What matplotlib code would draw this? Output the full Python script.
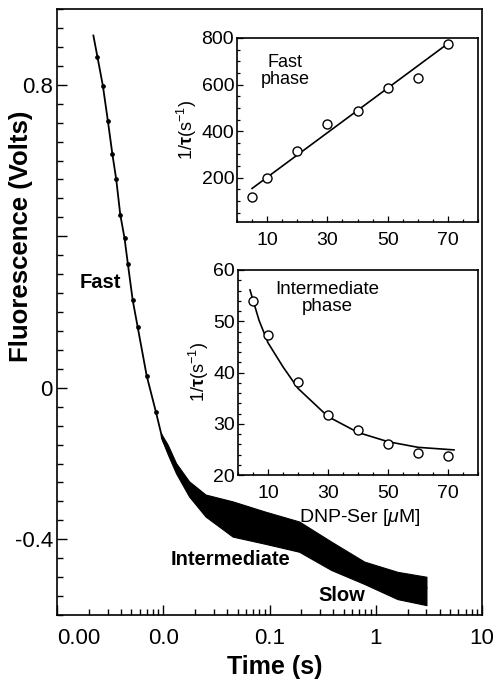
import matplotlib
matplotlib.use('Agg')
import matplotlib.pyplot as plt
from matplotlib.ticker import FixedLocator, MultipleLocator, LogLocator, NullFormatter, FixedFormatter

plt.rcParams['font.family'] = ['Liberation Sans', 'DejaVu Sans']
plt.rcParams['mathtext.fontset'] = 'custom'
plt.rcParams['mathtext.rm'] = 'Liberation Sans'
plt.rcParams['mathtext.it'] = 'Liberation Sans:italic'
plt.rcParams['mathtext.bf'] = 'Liberation Sans:bold'

# ---------------- main trace ----------------
t_fit = [0.0022, 0.0024, 0.0027, 0.00301, 0.00332, 0.00361, 0.00394, 0.00432, 0.00464,
         0.00516, 0.00575, 0.00698, 0.00855, 0.0099, 0.0132,
         0.0175, 0.025, 0.045, 0.064, 0.091, 0.19, 0.38, 0.78, 1.6, 3.0]
v_fit = [0.93, 0.874, 0.798, 0.705, 0.617, 0.550, 0.457, 0.395, 0.328,
         0.231, 0.160, 0.032, -0.065, -0.139, -0.210,
         -0.263, -0.307, -0.342, -0.355, -0.364, -0.395, -0.444, -0.488, -0.519, -0.528]

t_dots = [0.0024, 0.0027, 0.00301, 0.00332, 0.00361, 0.00394, 0.00432, 0.00464,
          0.00516, 0.00575, 0.00698, 0.00855]
v_dots = [0.874, 0.798, 0.705, 0.617, 0.550, 0.457, 0.395, 0.328,
          0.231, 0.160, 0.032, -0.065]

t_band = [0.0095, 0.011, 0.0132, 0.0175, 0.025, 0.045, 0.091, 0.19, 0.38, 0.78, 1.6, 3.0]
v_band_hi = [-0.12, -0.15, -0.199, -0.247, -0.282, -0.300, -0.327, -0.353, -0.406, -0.459, -0.486, -0.499]
v_band_lo = [-0.13, -0.175, -0.226, -0.287, -0.340, -0.393, -0.412, -0.433, -0.481, -0.518, -0.558, -0.574]

x_ticks = [0.001, 0.01, 0.1, 1, 10]
x_ticklabels = ['0.00', '0.0', '0.1', '1', '10']
y_ticks = [0.8, 0.4, 0.0, -0.4]
y_ticklabels = ['0.8', '', '0', '-0.4']

# ---------------- insets ----------------
conc = [5, 10, 20, 30, 40, 50, 60, 70]
fast_rate = [118, 197, 315, 431, 488, 586, 629, 776]
fast_fit_x = [5, 70]
fast_fit_y = [154, 776]

inter_rate = [54.0, 47.3, 38.1, 31.8, 28.8, 26.0, 24.2, 23.7]
inter_fit_x = [4, 7, 10, 15, 20, 30, 40, 50, 60, 72]
inter_fit_y = [56.1, 50.2, 45.8, 41.1, 36.9, 31.4, 28.3, 26.5, 25.4, 24.9]

W, H = 497, 680
fig = plt.figure(figsize=(W / 100, H / 100), dpi=100)


def rect(l, t, r, b):
    return [l / W, (H - b) / H, (r - l) / W, (b - t) / H]


ax = fig.add_axes(rect(57, 9, 482, 615))
ax.set_xscale('log')
ax.set_xlim(0.001, 10)
ax.set_ylim(-0.6, 1.0)

ax.fill_between(t_band, v_band_lo, v_band_hi, color='black', lw=0.8, zorder=2)
ax.plot(t_fit, v_fit, color='black', lw=1.3, zorder=3)
ax.plot(t_dots, v_dots, ls='none', marker='o', ms=2.4, color='black', zorder=3)

ax.xaxis.set_major_locator(FixedLocator(x_ticks))
ax.xaxis.set_major_formatter(FixedFormatter(x_ticklabels))
ax.xaxis.set_minor_locator(LogLocator(base=10, subs=range(2, 10)))
ax.xaxis.set_minor_formatter(NullFormatter())
ax.yaxis.set_major_locator(FixedLocator(y_ticks))
ax.yaxis.set_major_formatter(FixedFormatter(y_ticklabels))
ax.yaxis.set_minor_locator(MultipleLocator(0.05))
ax.tick_params(which='both', direction='in', top=False, right=False, width=1.0)
ax.tick_params(which='major', length=7)
ax.tick_params(which='minor', length=4)
ax.tick_params(axis='x', which='major', labelsize=16, pad=9)
ax.tick_params(axis='y', which='major', labelsize=16, pad=3)
for lab in ax.get_xticklabels():
    if lab.get_text() == '0.00':
        lab.set_horizontalalignment('left')
for s in ax.spines.values():
    s.set_linewidth(1.2)

ax.set_xlabel('Time (s)', fontsize=18, fontweight='bold')
ax.xaxis.set_label_coords(0.513, -0.066)
ax.set_ylabel('Fluorescence (Volts)', fontsize=18.5, fontweight='bold')
ax.yaxis.set_label_coords(-0.056, 0.625)

ax.text(0.101, 0.548, 'Fast', transform=ax.transAxes, ha='center', va='center',
        fontsize=14.5, fontweight='bold')
ax.text(0.409, 0.091, 'Intermediate', transform=ax.transAxes, ha='center', va='center',
        fontsize=14.5, fontweight='bold')
ax.text(0.671, 0.033, 'Slow', transform=ax.transAxes, ha='center', va='center',
        fontsize=14.5, fontweight='bold')

ylab_inset = r'1/$\mathbf{\tau}$(s$^{-1}$)'

# inset 1: fast phase
a1 = fig.add_axes(rect(237, 38, 478, 222))
a1.plot(fast_fit_x, fast_fit_y, color='black', lw=1.2)
a1.plot(conc, fast_rate, ls='none', marker='o', ms=6.5, mfc='white', mec='black', mew=1.0)
a1.set_xlim(0, 80)
a1.set_ylim(10, 800)
a1.xaxis.set_major_locator(FixedLocator([10, 30, 50, 70]))
a1.xaxis.set_minor_locator(MultipleLocator(5))
a1.yaxis.set_major_locator(FixedLocator([200, 400, 600, 800]))
a1.yaxis.set_minor_locator(MultipleLocator(50))
a1.text(0.2, 0.82, 'Fast\nphase', transform=a1.transAxes, ha='center', va='center',
        fontsize=13, linespacing=0.95)
a1.set_ylabel(ylab_inset, fontsize=13, labelpad=2)

# inset 2: intermediate phase
a2 = fig.add_axes(rect(238, 270, 478, 475))
a2.plot(inter_fit_x, inter_fit_y, color='black', lw=1.2)
a2.plot(conc, inter_rate, ls='none', marker='o', ms=6.5, mfc='white', mec='black', mew=1.0)
a2.set_xlim(0, 80)
a2.set_ylim(20, 60)
a2.xaxis.set_major_locator(FixedLocator([10, 30, 50, 70]))
a2.xaxis.set_minor_locator(MultipleLocator(5))
a2.yaxis.set_major_locator(FixedLocator([20, 30, 40, 50, 60]))
a2.yaxis.set_minor_locator(MultipleLocator(2))
a2.text(0.37, 0.863, 'Intermediate\nphase', transform=a2.transAxes, ha='center', va='center',
        fontsize=13.5, linespacing=0.95)
a2.set_ylabel(ylab_inset, fontsize=13, labelpad=2)
a2.set_xlabel(r'DNP-Ser [$\mu$M]', fontsize=14)
a2.xaxis.set_label_coords(0.508, -0.155)

for a in (a1, a2):
    a.tick_params(which='both', direction='in', top=False, right=False, width=0.9)
    a.tick_params(which='major', length=4)
    a.tick_params(which='minor', length=2)
    a.tick_params(axis='x', which='major', labelsize=14, pad=7)
    a.tick_params(axis='y', which='major', labelsize=14, pad=2)
    for s in a.spines.values():
        s.set_linewidth(1.2)

fig.savefig('out.png', dpi=100)
